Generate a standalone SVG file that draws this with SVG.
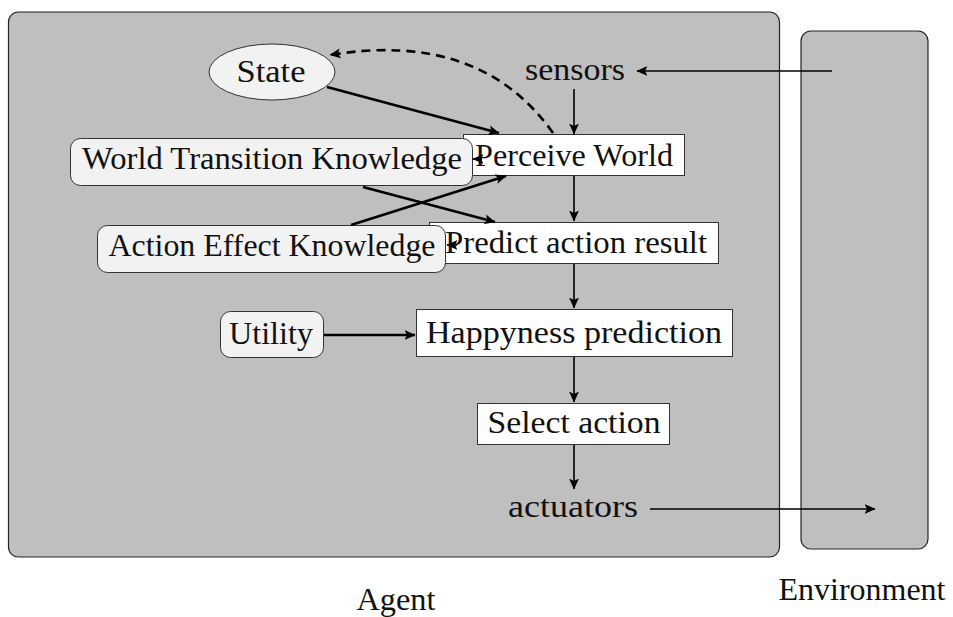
<svg xmlns="http://www.w3.org/2000/svg" width="953" height="617" viewBox="0 0 953 617">
  <style>
    .lbl { font-family: "Liberation Serif", "DejaVu Serif", serif; font-size: 32px; fill: #111; text-anchor: middle; }
    .frame { fill: #bfbfbf; stroke: #222; stroke-width: 1.2; }
    .know { fill: #f2f2f2; stroke: #333; stroke-width: 1; }
    .step { fill: #ffffff; stroke: #333; stroke-width: 1; }
    .thin { fill: none; stroke: #000; stroke-width: 1.6; marker-end: url(#head); }
    .thick { fill: none; stroke: #000; stroke-width: 2.6; marker-end: url(#head); }
  </style>
  <defs>
    <marker id="head" viewBox="0 0 10 10" refX="9.5" refY="5" markerWidth="11" markerHeight="11" markerUnits="userSpaceOnUse" orient="auto">
      <path d="M0,0.5 L10,5 L0,9.5 L2.2,5 Z" fill="#000"/>
    </marker>
  </defs>

  <!-- containers -->
  <g id="agent">
    <rect class="frame" x="8.5" y="12" width="771" height="545" rx="10"/>
    <text class="lbl" x="396" y="610" textLength="79" lengthAdjust="spacingAndGlyphs">Agent</text>
  </g>
  <g id="environment">
    <rect class="frame" x="801" y="31" width="127" height="518" rx="10"/>
    <text class="lbl" x="862" y="600" textLength="167" lengthAdjust="spacingAndGlyphs">Environment</text>
  </g>

  <!-- labels without frames -->
  <g id="sensors">
    <text class="lbl" x="575" y="80" textLength="100" lengthAdjust="spacingAndGlyphs">sensors</text>
  </g>
  <g id="actuators">
    <text class="lbl" x="573" y="517" textLength="130" lengthAdjust="spacingAndGlyphs">actuators</text>
  </g>

  <!-- processing steps -->
  <g id="perceive">
    <rect class="step" x="463.5" y="134.5" width="221" height="41"/>
    <text class="lbl" x="574" y="166" textLength="198" lengthAdjust="spacingAndGlyphs">Perceive World</text>
  </g>
  <g id="predict">
    <rect class="step" x="429.5" y="222.5" width="289" height="41"/>
    <text class="lbl" x="576" y="253" textLength="262" lengthAdjust="spacingAndGlyphs">Predict action result</text>
  </g>
  <g id="happyness">
    <rect class="step" x="416.5" y="309.5" width="316" height="47"/>
    <text class="lbl" x="574" y="343" textLength="296" lengthAdjust="spacingAndGlyphs">Happyness prediction</text>
  </g>
  <g id="select">
    <rect class="step" x="477.5" y="403.5" width="192" height="41"/>
    <text class="lbl" x="574" y="433" textLength="173" lengthAdjust="spacingAndGlyphs">Select action</text>
  </g>

  <!-- knowledge stores -->
  <g id="state">
    <ellipse class="know" cx="272" cy="72" rx="63" ry="28"/>
    <text class="lbl" x="271" y="82" textLength="69" lengthAdjust="spacingAndGlyphs">State</text>
  </g>
  <g id="world-transition">
    <rect class="know" x="70.5" y="138.5" width="402" height="47" rx="10"/>
    <text class="lbl" x="272" y="169" textLength="380" lengthAdjust="spacingAndGlyphs">World Transition Knowledge</text>
  </g>
  <g id="action-effect">
    <rect class="know" x="97.5" y="225.5" width="348" height="47" rx="10"/>
    <text class="lbl" x="272" y="256" textLength="327" lengthAdjust="spacingAndGlyphs">Action Effect Knowledge</text>
  </g>
  <g id="utility">
    <rect class="know" x="220.5" y="311.5" width="103" height="46" rx="10"/>
    <text class="lbl" x="271" y="344" textLength="84" lengthAdjust="spacingAndGlyphs">Utility</text>
  </g>

  <!-- connectors -->
  <g id="connectors">
    <path class="thin" d="M832,71 L637,71"/>
    <path class="thin" d="M574,89 L574,134"/>
    <path class="thin" d="M574,176 L574,221"/>
    <path class="thin" d="M574,264 L574,308"/>
    <path class="thin" d="M574,357 L574,402"/>
    <path class="thin" d="M574,445 L574,489"/>
    <path class="thin" d="M650,509 L875,509"/>
    <path class="thick" d="M327,87 L499,133"/>
    <path class="thick" d="M363,187 L495,222"/>
    <path class="thick" d="M351,225 L506,176"/>
    <path class="thick" d="M324,335 L415,335"/>
    <path class="thick" d="M553,133 Q480,30 330,55" stroke-dasharray="9,6"/>
    <path class="thin" d="M482,159 L473,159"/>
    <path class="thin" d="M457,245 L447,245"/>
  </g>
</svg>
